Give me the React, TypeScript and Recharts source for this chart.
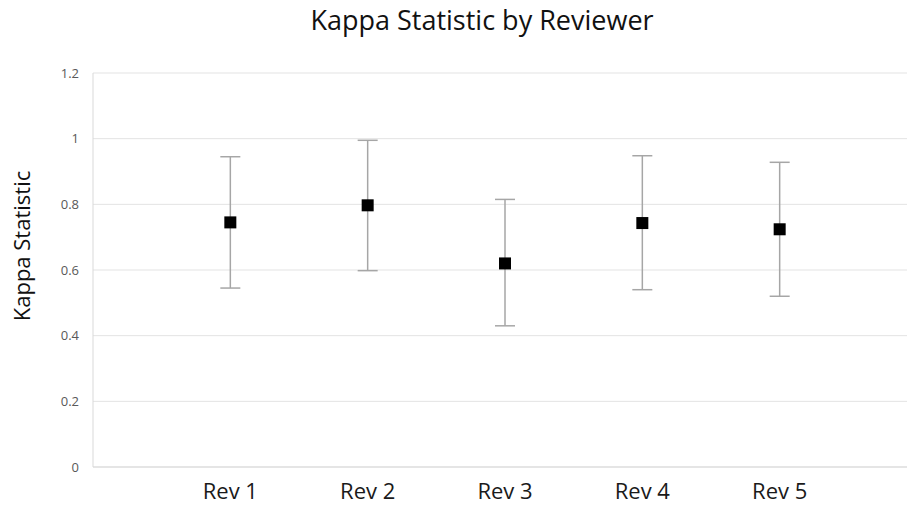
import { ScatterChart, Scatter, XAxis, YAxis, CartesianGrid, ErrorBar, Label } from "recharts"

const reviewers = ["Rev 1", "Rev 2", "Rev 3", "Rev 4", "Rev 5"]
const kappa = [0.745, 0.797, 0.62, 0.743, 0.724]
const lower = [0.545, 0.598, 0.43, 0.54, 0.52]
const upper = [0.945, 0.995, 0.815, 0.948, 0.928]
const yTicks = [0, 0.2, 0.4, 0.6, 0.8, 1, 1.2]

const data = reviewers.map((name, i) => ({
  x: i + 1,
  name,
  kappa: kappa[i],
  err: [kappa[i] - lower[i], upper[i] - kappa[i]],
}))

const font = "'Open Sans', sans-serif"

const SquareDot = (props: any) => {
  const { cx, cy } = props
  return <rect x={cx - 6} y={cy - 6} width={12} height={12} fill="#000" />
}

export default function App() {
  return (
    <div style={{ position: "absolute", left: 0, top: 0, width: 907, height: 510, overflow: "hidden", background: "#fff", fontFamily: font }}>
      <div style={{ position: "absolute", left: 0, top: 2, width: 964, textAlign: "center", fontSize: 27, lineHeight: "36px", color: "#111" }}>
        Kappa Statistic by Reviewer
      </div>
      <ScatterChart width={930} height={510} margin={{ top: 73, right: 13, bottom: 0, left: 0 }}>
        <CartesianGrid horizontal vertical={false} stroke="#e3e3e3" />
        <XAxis
          type="number"
          dataKey="x"
          domain={[0, 6]}
          ticks={[1, 2, 3, 4, 5]}
          tickFormatter={(v: number) => reviewers[v - 1]}
          tickLine={false}
          tickSize={0}
          tickMargin={16}
          height={43}
          axisLine={{ stroke: "#d9d9d9" }}
          tick={{ fill: "#1a1a1a", fontSize: 22, fontFamily: font }}
        />
        <YAxis
          type="number"
          dataKey="kappa"
          domain={[0, 1.2]}
          ticks={yTicks}
          tickLine={false}
          tickSize={0}
          tickMargin={14}
          width={93}
          axisLine={{ stroke: "#d9d9d9" }}
          tick={{ fill: "#595959", fontSize: 13, fontFamily: font }}
        >
          <Label
            content={() => (
              <text
                x={21}
                y={246}
                transform="rotate(-90 21 246)"
                textAnchor="middle"
                dominantBaseline="central"
                fontSize={22}
                fill="#111"
                fontFamily={font}
              >
                Kappa Statistic
              </text>
            )}
          />
        </YAxis>
        <Scatter data={data} dataKey="kappa" shape={SquareDot} isAnimationActive={false}>
          <ErrorBar dataKey="err" direction="y" width={10} stroke="#a6a6a6" strokeWidth={1.5} />
        </Scatter>
      </ScatterChart>
    </div>
  )
}
